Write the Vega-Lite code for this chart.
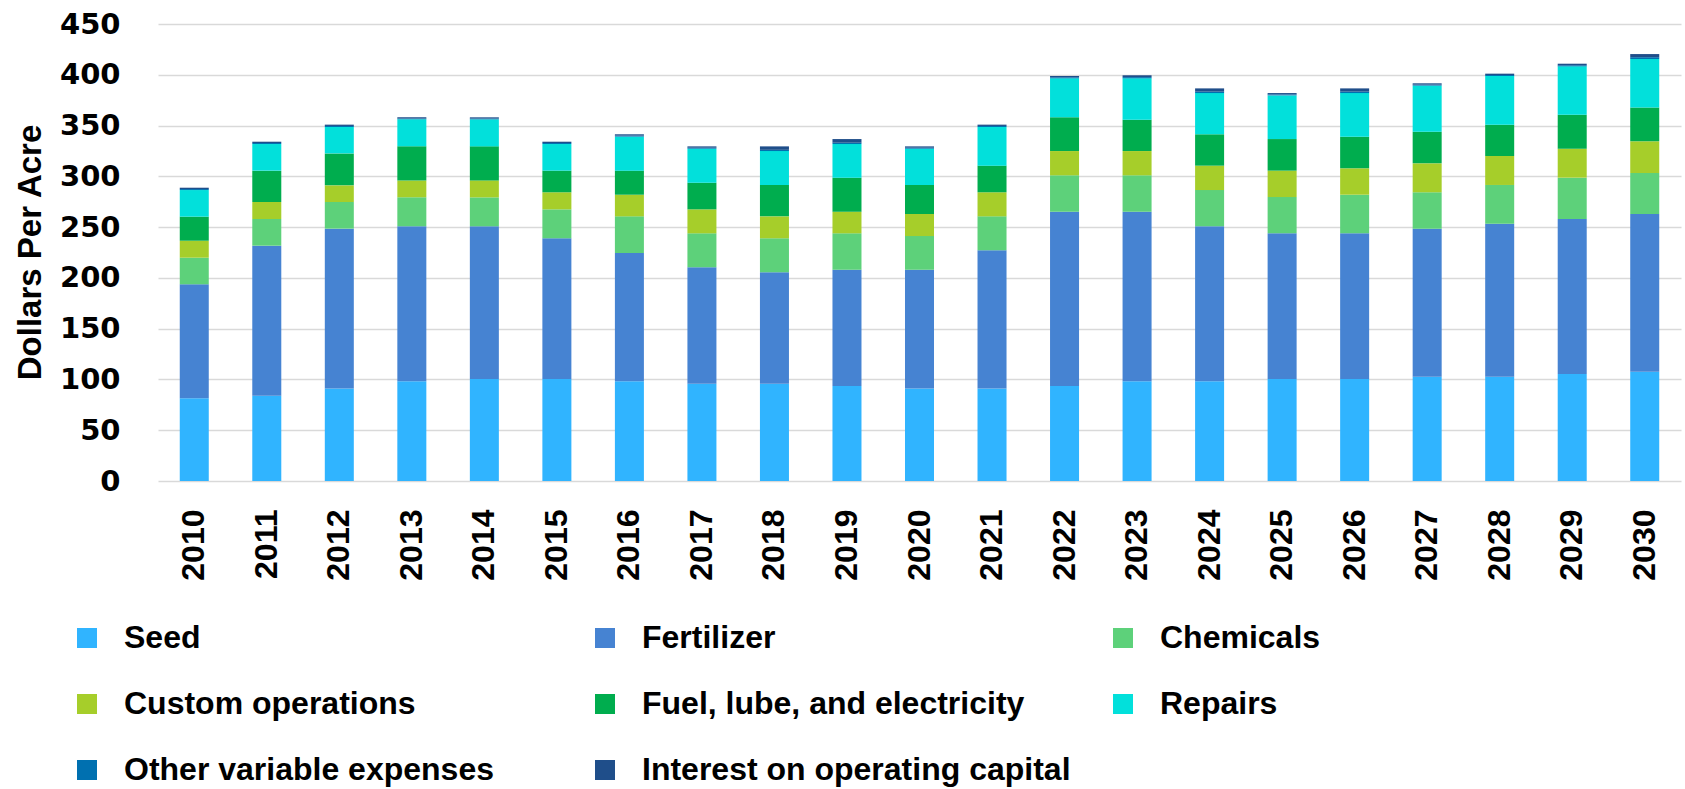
{
  "$schema": "https://vega.github.io/schema/vega-lite/v6.json",
  "autosize": {"type": "none"},
  "padding": {"left": 158, "top": 24, "right": 4, "bottom": 308},
  "width": 1523,
  "height": 457,
  "background": "white",
  "config": {"view": {"stroke": null}},
  "datasets": {
    "cats": [
      {"cat": "Seed", "i": 0},
      {"cat": "Fertilizer", "i": 1},
      {"cat": "Chemicals", "i": 2},
      {"cat": "Custom operations", "i": 3},
      {"cat": "Fuel, lube, and electricity", "i": 4},
      {"cat": "Repairs", "i": 5},
      {"cat": "Other variable expenses", "i": 6},
      {"cat": "Interest on operating capital", "i": 7}
    ],
    "costs": [
      {"year": "2010", "Seed": 81.4, "Fertilizer": 112.3, "Chemicals": 26.2, "Custom operations": 16.7, "Fuel, lube, and electricity": 23.7, "Repairs": 26.2, "Other variable expenses": 1.0, "Interest on operating capital": 1.3},
      {"year": "2011", "Seed": 84.0, "Fertilizer": 147.7, "Chemicals": 26.3, "Custom operations": 16.7, "Fuel, lube, and electricity": 30.9, "Repairs": 26.2, "Other variable expenses": 1.0, "Interest on operating capital": 1.3},
      {"year": "2012", "Seed": 91.2, "Fertilizer": 157.3, "Chemicals": 26.2, "Custom operations": 16.4, "Fuel, lube, and electricity": 31.5, "Repairs": 26.0, "Other variable expenses": 1.0, "Interest on operating capital": 1.3},
      {"year": "2013", "Seed": 98.1, "Fertilizer": 152.7, "Chemicals": 28.5, "Custom operations": 16.7, "Fuel, lube, and electricity": 33.5, "Repairs": 26.6, "Other variable expenses": 0.8, "Interest on operating capital": 1.2},
      {"year": "2014", "Seed": 100.4, "Fertilizer": 150.4, "Chemicals": 28.5, "Custom operations": 16.7, "Fuel, lube, and electricity": 33.5, "Repairs": 26.6, "Other variable expenses": 0.8, "Interest on operating capital": 1.2},
      {"year": "2015", "Seed": 100.4, "Fertilizer": 138.6, "Chemicals": 28.5, "Custom operations": 16.8, "Fuel, lube, and electricity": 21.3, "Repairs": 26.2, "Other variable expenses": 1.0, "Interest on operating capital": 1.3},
      {"year": "2016", "Seed": 98.1, "Fertilizer": 126.4, "Chemicals": 36.1, "Custom operations": 21.3, "Fuel, lube, and electricity": 23.7, "Repairs": 33.5, "Other variable expenses": 1.0, "Interest on operating capital": 1.3},
      {"year": "2017", "Seed": 95.8, "Fertilizer": 114.6, "Chemicals": 33.5, "Custom operations": 23.6, "Fuel, lube, and electricity": 26.2, "Repairs": 33.5, "Other variable expenses": 1.0, "Interest on operating capital": 1.3},
      {"year": "2018", "Seed": 95.8, "Fertilizer": 109.7, "Chemicals": 33.5, "Custom operations": 21.6, "Fuel, lube, and electricity": 30.9, "Repairs": 33.4, "Other variable expenses": 1.2, "Interest on operating capital": 3.4},
      {"year": "2019", "Seed": 93.5, "Fertilizer": 114.6, "Chemicals": 35.8, "Custom operations": 21.3, "Fuel, lube, and electricity": 33.5, "Repairs": 33.1, "Other variable expenses": 1.3, "Interest on operating capital": 3.6},
      {"year": "2020", "Seed": 91.2, "Fertilizer": 116.9, "Chemicals": 33.1, "Custom operations": 21.7, "Fuel, lube, and electricity": 28.6, "Repairs": 35.7, "Other variable expenses": 1.0, "Interest on operating capital": 1.3},
      {"year": "2021", "Seed": 91.2, "Fertilizer": 136.0, "Chemicals": 33.4, "Custom operations": 23.7, "Fuel, lube, and electricity": 26.2, "Repairs": 38.1, "Other variable expenses": 1.0, "Interest on operating capital": 1.3},
      {"year": "2022", "Seed": 93.5, "Fertilizer": 171.7, "Chemicals": 35.8, "Custom operations": 23.9, "Fuel, lube, and electricity": 33.2, "Repairs": 38.4, "Other variable expenses": 1.0, "Interest on operating capital": 1.3},
      {"year": "2023", "Seed": 98.1, "Fertilizer": 167.1, "Chemicals": 35.8, "Custom operations": 23.9, "Fuel, lube, and electricity": 30.9, "Repairs": 40.7, "Other variable expenses": 1.2, "Interest on operating capital": 1.8},
      {"year": "2024", "Seed": 98.1, "Fertilizer": 152.7, "Chemicals": 35.7, "Custom operations": 24.0, "Fuel, lube, and electricity": 30.9, "Repairs": 40.6, "Other variable expenses": 1.4, "Interest on operating capital": 3.2},
      {"year": "2025", "Seed": 100.4, "Fertilizer": 143.5, "Chemicals": 35.7, "Custom operations": 26.0, "Fuel, lube, and electricity": 31.1, "Repairs": 43.0, "Other variable expenses": 1.0, "Interest on operating capital": 1.3},
      {"year": "2026", "Seed": 100.4, "Fertilizer": 143.5, "Chemicals": 38.0, "Custom operations": 26.0, "Fuel, lube, and electricity": 31.2, "Repairs": 42.9, "Other variable expenses": 1.4, "Interest on operating capital": 3.2},
      {"year": "2027", "Seed": 102.7, "Fertilizer": 145.8, "Chemicals": 35.8, "Custom operations": 28.5, "Fuel, lube, and electricity": 31.2, "Repairs": 45.3, "Other variable expenses": 1.0, "Interest on operating capital": 1.3},
      {"year": "2028", "Seed": 102.7, "Fertilizer": 150.7, "Chemicals": 38.1, "Custom operations": 28.5, "Fuel, lube, and electricity": 30.9, "Repairs": 47.9, "Other variable expenses": 1.0, "Interest on operating capital": 1.3},
      {"year": "2029", "Seed": 105.4, "Fertilizer": 152.6, "Chemicals": 40.7, "Custom operations": 28.5, "Fuel, lube, and electricity": 33.5, "Repairs": 47.6, "Other variable expenses": 1.1, "Interest on operating capital": 1.5},
      {"year": "2030", "Seed": 107.6, "Fertilizer": 155.3, "Chemicals": 40.4, "Custom operations": 31.2, "Fuel, lube, and electricity": 33.4, "Repairs": 47.6, "Other variable expenses": 1.8, "Interest on operating capital": 3.1}
    ]
  },
  "data": {"name": "costs"},
  "transform": [
    {"fold": ["Seed", "Fertilizer", "Chemicals", "Custom operations", "Fuel, lube, and electricity", "Repairs", "Other variable expenses", "Interest on operating capital"], "as": ["cat", "value"]},
    {"lookup": "cat", "from": {"data": {"name": "cats"}, "key": "cat", "fields": ["i"]}}
  ],
  "mark": {"type": "bar"},
  "encoding": {
    "x": {
      "field": "year", "type": "nominal",
      "scale": {"paddingInner": 0.6, "paddingOuter": 0.3},
      "axis": {
        "title": null, "domain": false, "ticks": false, "labelAngle": 270,
        "labelFont": "Liberation Sans", "labelFontWeight": "bold", "labelFontSize": 32,
        "labelColor": "#000000", "labelPadding": 28
      }
    },
    "y": {
      "field": "value", "type": "quantitative", "aggregate": "sum", "stack": "zero",
      "scale": {"domain": [0, 450], "nice": false},
      "axis": {
        "title": "Dollars Per Acre",
        "values": [0, 50, 100, 150, 200, 250, 300, 350, 400, 450],
        "domain": false, "ticks": false,
        "grid": true, "gridColor": "#D9D9D9", "gridWidth": 1.5,
        "labelFont": "DejaVu Sans", "labelFontWeight": "bold", "labelFontSize": 29,
        "labelColor": "#000000", "labelPadding": 38,
        "titleFont": "Liberation Sans", "titleFontWeight": "bold", "titleFontSize": 33,
        "titleColor": "#000000", "titleAngle": 270, "titleBaseline": "bottom",
        "titleX": -111, "titleY": 228, "titleAlign": "center"
      }
    },
    "color": {
      "field": "cat", "type": "nominal",
      "scale": {
        "domain": ["Seed", "Fertilizer", "Chemicals", "Custom operations", "Fuel, lube, and electricity", "Repairs", "Other variable expenses", "Interest on operating capital"],
        "range": ["#30B4FF", "#4683D2", "#5DD17A", "#A6CE2A", "#00AD4E", "#02E0DB", "#0070B0", "#1F4E8A"]
      },
      "legend": {
        "title": null, "orient": "none", "direction": "horizontal", "columns": 3,
        "gridAlign": "all", "legendX": -87, "legendY": 598, "padding": 0,
        "symbolType": "square", "symbolSize": 400, "symbolStrokeWidth": 0,
        "labelFont": "Liberation Sans", "labelFontWeight": "bold", "labelFontSize": 32,
        "labelColor": "#000000", "labelOffset": 21, "columnPadding": 36, "rowPadding": 34,
        "labelLimit": 0
      }
    },
    "order": {"field": "i", "type": "quantitative", "sort": "ascending"}
  }
}
